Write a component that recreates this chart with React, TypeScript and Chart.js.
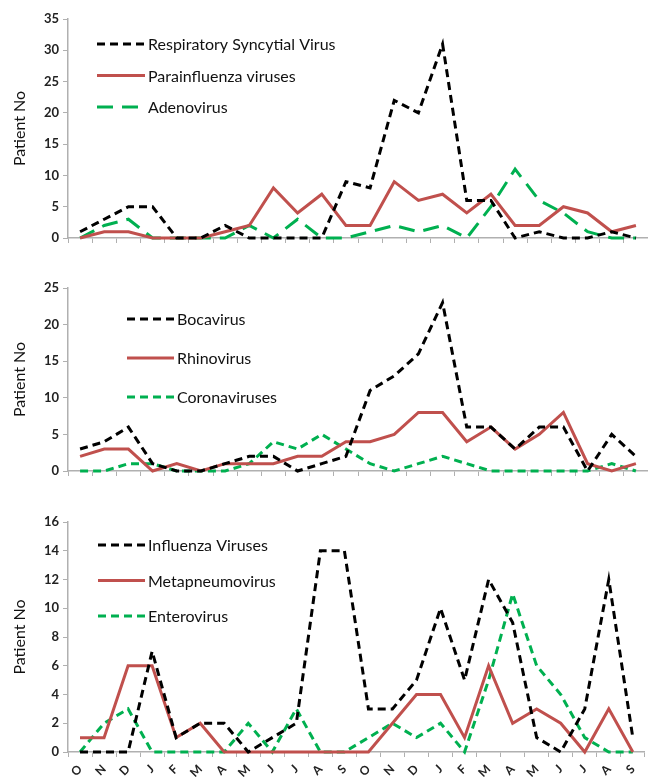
import React, { useEffect, useRef } from "react";
import { Chart, registerables } from "chart.js";

Chart.register(...registerables);

const months = ["O", "N", "D", "J", "F", "M", "A", "M", "J", "J", "A", "S", "O", "N", "D", "J", "F", "M", "A", "M", "J", "J", "A", "S"];

const rsv = [1, 3, 5, 5, 0, 0, 2, 0, 0, 0, 0, 9, 8, 22, 20, 31, 6, 6, 0, 1, 0, 0, 1, 0];
const parainfluenza = [0, 1, 1, 0, 0, 0, 1, 2, 8, 4, 7, 2, 2, 9, 6, 7, 4, 7, 2, 2, 5, 4, 1, 2];
const adenovirus = [0, 2, 3, 0, 0, 0, 0, 2, 0, 3, 0, 0, 1, 2, 1, 2, 0, 5, 11, 6, 4, 1, 0, 0];

const bocavirus = [3, 4, 6, 1, 0, 0, 1, 2, 2, 0, 1, 2, 11, 13, 16, 23, 6, 6, 3, 6, 6, 0, 5, 2];
const rhinovirus = [2, 3, 3, 0, 1, 0, 1, 1, 1, 2, 2, 4, 4, 5, 8, 8, 4, 6, 3, 5, 8, 1, 0, 1];
const coronaviruses = [0, 0, 1, 1, 0, 0, 0, 1, 4, 3, 5, 3, 1, 0, 1, 2, 1, 0, 0, 0, 0, 0, 1, 0];

const influenza = [0, 0, 0, 7, 1, 2, 2, 0, 1, 2, 14, 14, 3, 3, 5, 10, 5, 12, 9, 1, 0, 3, 12, 1];
const metapneumovirus = [1, 1, 6, 6, 1, 2, 0, 0, 0, 0, 0, 0, 0, 2, 4, 4, 1, 6, 2, 3, 2, 0, 3, 0];
const enterovirus = [0, 2, 3, 0, 0, 0, 0, 2, 0, 3, 0, 0, 1, 2, 1, 2, 0, 5, 11, 6, 4, 1, 0, 0];

const panel1Names = ["Respiratory Syncytial Virus", "Parainfluenza viruses", "Adenovirus"];
const panel2Names = ["Bocavirus", "Rhinovirus", "Coronaviruses"];
const panel3Names = ["Influenza Viruses", "Metapneumovirus", "Enterovirus"];

const yTitle = "Patient No";

const BLACK = "#000000";
const RED = "#c0504d";
const GREEN = "#00b050";
const AXIS = "#b0b0b0";
const FONT = "Lato, 'Open Sans', sans-serif";

type Style = { color: string; dash: number[] };
const blackDash: Style = { color: BLACK, dash: [8, 5] };
const redSolid: Style = { color: RED, dash: [] };
const greenLong: Style = { color: GREEN, dash: [16, 9] };
const greenShort: Style = { color: GREEN, dash: [8, 5] };

type PanelSpec = {
  names: string[];
  series: number[][];
  styles: Style[];
  yMax: number;
  yStep: number;
  height: number;
  padTop: number;
  xHeight: number;
  showX: boolean;
  legend: { x: number; y: number; gap: number; len: number };
};

const panels: PanelSpec[] = [
  {
    names: panel1Names,
    series: [rsv, parainfluenza, adenovirus],
    styles: [blackDash, redSolid, greenLong],
    yMax: 35,
    yStep: 5,
    height: 250,
    padTop: 19,
    xHeight: 12,
    showX: false,
    legend: { x: 97, y: 44, gap: 31.5, len: 48 },
  },
  {
    names: panel2Names,
    series: [bocavirus, rhinovirus, coronaviruses],
    styles: [blackDash, redSolid, greenShort],
    yMax: 25,
    yStep: 5,
    height: 240,
    padTop: 38,
    xHeight: 19,
    showX: false,
    legend: { x: 127, y: 69, gap: 39, len: 47 },
  },
  {
    names: panel3Names,
    series: [influenza, metapneumovirus, enterovirus],
    styles: [blackDash, redSolid, greenShort],
    yMax: 16,
    yStep: 2,
    height: 294,
    padTop: 32,
    xHeight: 32,
    showX: true,
    legend: { x: 98, y: 55, gap: 35.5, len: 47 },
  },
];

function makeLegendPlugin(spec: PanelSpec) {
  return {
    id: "insideLegend",
    afterDraw(chart: any) {
      const ctx = chart.ctx as CanvasRenderingContext2D;
      ctx.save();
      spec.names.forEach((name, i) => {
        const st = spec.styles[i];
        const y = spec.legend.y + i * spec.legend.gap;
        ctx.beginPath();
        ctx.strokeStyle = st.color;
        ctx.lineWidth = 3;
        ctx.lineCap = "butt";
        ctx.setLineDash(st.dash);
        ctx.moveTo(spec.legend.x, y);
        ctx.lineTo(spec.legend.x + spec.legend.len, y);
        ctx.stroke();
        ctx.setLineDash([]);
        ctx.fillStyle = "#111111";
        ctx.font = `16px ${FONT}`;
        ctx.textBaseline = "middle";
        ctx.textAlign = "left";
        ctx.fillText(name, spec.legend.x + spec.legend.len + 3, y + 1);
      });
      ctx.restore();
    },
  };
}

function Panel({ spec, top }: { spec: PanelSpec; top: number }) {
  const ref = useRef<HTMLCanvasElement | null>(null);
  useEffect(() => {
    if (!ref.current) return;
    const chart = new Chart(ref.current, {
      type: "line",
      data: {
        labels: months,
        datasets: spec.series.map((data, i) => ({
          label: spec.names[i],
          data,
          borderColor: spec.styles[i].color,
          backgroundColor: spec.styles[i].color,
          borderDash: spec.styles[i].dash,
          borderWidth: 3,
          pointRadius: 0,
          tension: 0,
          fill: false,
          clip: 6,
        })),
      },
      options: {
        responsive: false,
        animation: false,
        layout: { padding: { top: spec.padTop, right: 0, bottom: 0, left: 10 } },
        plugins: { legend: { display: false }, tooltip: { enabled: false } },
        scales: {
          x: {
            type: "category",
            offset: true,
            grid: {
              display: true,
              drawOnChartArea: false,
              drawTicks: true,
              tickLength: 5,
              color: AXIS,
              offset: true,
            },
            border: { display: true, color: AXIS, width: 1.5 },
            ticks: {
              display: spec.showX,
              minRotation: 45,
              maxRotation: 45,
              autoSkip: false,
              padding: 5,
              color: "#222222",
              font: { family: FONT, size: 12, weight: "bold" },
            },
            afterFit(scale: any) {
              scale.height = spec.xHeight;
            },
          },
          y: {
            min: 0,
            max: spec.yMax,
            grid: {
              display: true,
              drawOnChartArea: false,
              drawTicks: true,
              tickLength: 5,
              color: AXIS,
            },
            border: { display: true, color: AXIS, width: 1.5 },
            ticks: {
              stepSize: spec.yStep,
              padding: 4,
              color: "#222222",
              font: { family: FONT, size: 13, weight: "bold" },
            },
            title: {
              display: true,
              text: yTitle,
              color: "#111111",
              padding: { top: 0, bottom: 4 },
              font: { family: FONT, size: 16 },
            },
            afterFit(scale: any) {
              scale.width = 58;
            },
          },
        },
      },
      plugins: [makeLegendPlugin(spec)],
    } as any);
    return () => chart.destroy();
  }, [spec]);
  return (
    <canvas
      ref={ref}
      width={648}
      height={spec.height}
      style={{ position: "absolute", left: 0, top, width: 648, height: spec.height, display: "block" }}
    />
  );
}

export default function App() {
  const tops = [0, 250, 490];
  return (
    <div style={{ position: "fixed", left: 0, top: 0, width: 648, height: 784, background: "#ffffff", overflow: "hidden" }}>
      {panels.map((p, i) => (
        <Panel key={i} spec={p} top={tops[i]} />
      ))}
    </div>
  );
}
